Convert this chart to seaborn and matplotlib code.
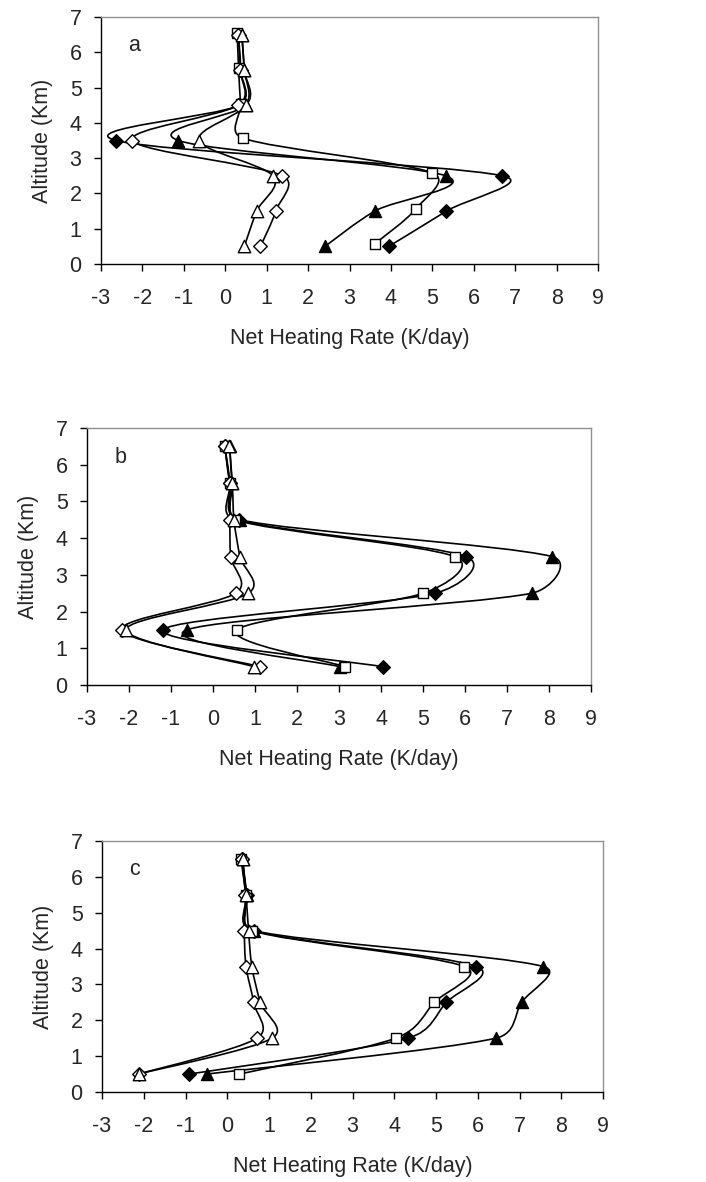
import numpy as np
import matplotlib
matplotlib.use("Agg")
import matplotlib.pyplot as plt
from matplotlib.path import Path
from matplotlib.patches import PathPatch
import seaborn as sns

# ---------------- data ----------------
alt = [0.5, 1.5, 2.5, 3.5, 4.5, 5.5, 6.5]
alt_sq_a = [0.58, 1.56, 2.58, 3.57, 4.53, 5.56, 6.56]

# panel a
a_fdiam = [3.95, 5.34, 6.69, -2.64, 0.33, 0.37, 0.32]
a_ftri  = [2.41, 3.61, 5.32, -1.13, 0.50, 0.46, 0.40]
a_osq   = [3.62, 4.60, 5.00, 0.42, 0.37, 0.32, 0.29]
a_odiam = [0.85, 1.22, 1.38, -2.24, 0.31, 0.36, 0.31]
a_otri  = [0.46, 0.76, 1.15, -0.63, 0.50, 0.46, 0.40]

# panel b
b_fdiam = [4.04, -1.19, 5.29, 6.02, 0.61, 0.40, 0.28]
b_ftri  = [3.02, -0.63, 7.59, 8.07, 0.64, 0.46, 0.40]
b_osq   = [3.14, 0.57, 5.01, 5.75, 0.52, 0.40, 0.28]
b_odiam = [1.11, -2.17, 0.54, 0.42, 0.40, 0.40, 0.28]
b_otri  = [0.98, -2.07, 0.84, 0.64, 0.50, 0.46, 0.39]

# panel c
c_fdiam = [-0.91, 4.32, 5.25, 5.97, 0.63, 0.47, 0.35]
c_ftri  = [-0.49, 6.43, 7.05, 7.57, 0.64, 0.47, 0.37]
c_osq   = [0.29, 4.03, 4.96, 5.68, 0.59, 0.45, 0.33]
c_odiam = [-2.12, 0.71, 0.63, 0.45, 0.41, 0.43, 0.35]
c_otri  = [-2.12, 1.07, 0.79, 0.59, 0.51, 0.45, 0.37]

x_ticks = [-3, -2, -1, 0, 1, 2, 3, 4, 5, 6, 7, 8, 9]
y_ticks = [0, 1, 2, 3, 4, 5, 6, 7]
panel_labels = ["a", "b", "c"]
xlabel = "Net Heating Rate (K/day)"
ylabel = "Altitude (Km)"

# ---------------- style ----------------
sns.set_style("ticks")
plt.rcParams["font.family"] = ["Liberation Sans", "DejaVu Sans"]
FS = 15.5

fig = plt.figure(figsize=(7.06, 11.82), dpi=100)

positions = [
    [101 / 706, 1 - 264 / 1182, 497 / 706, 247 / 1182],
    [87 / 706, 1 - 685 / 1182, 504 / 706, 257 / 1182],
    [102 / 706, 1 - 1092 / 1182, 501 / 706, 251 / 1182],
]

# marker styles: (marker, facecolor, size)
styles = [
    ("D", "black", 48),   # filled diamond
    ("^", "black", 75),   # filled triangle
    ("s", "white", 50),   # open square
    ("D", "white", 48),   # open diamond
    ("^", "white", 80),   # open triangle
]

panels = [
    [(a_fdiam, alt), (a_ftri, alt), (a_osq, alt_sq_a), (a_odiam, alt), (a_otri, alt)],
    [(b_fdiam, alt), (b_ftri, alt), (b_osq, alt), (b_odiam, alt), (b_otri, alt)],
    [(c_fdiam, alt), (c_ftri, alt), (c_osq, alt), (c_odiam, alt), (c_otri, alt)],
]


def smooth_path(xs, ys, sx, sy):
    """Excel-like smoothed line: Bezier, tangent/6, capped at half segment (pixel space)."""
    P = np.column_stack([np.asarray(xs, float) * sx, np.asarray(ys, float) * sy])
    n = len(P)
    verts = [P[0]]
    codes = [Path.MOVETO]
    for i in range(n - 1):
        p0 = P[i - 1] if i > 0 else P[i]
        p1 = P[i]
        p2 = P[i + 1]
        p3 = P[i + 2] if i + 2 < n else P[i + 1]
        seg = np.linalg.norm(p2 - p1)
        d1 = (p2 - p0) / 6.0
        d2 = (p3 - p1) / 6.0
        for d in (d1, d2):
            L = np.linalg.norm(d)
            if L > seg / 2 and L > 0:
                d *= (seg / 2) / L
        c1 = p1 + d1
        c2 = p2 - d2
        verts += [c1, c2, p2]
        codes += [Path.CURVE4] * 3
    V = np.array(verts)
    V[:, 0] /= sx
    V[:, 1] /= sy
    return Path(V, codes)


for k, (pos, series) in enumerate(zip(positions, panels)):
    ax = fig.add_axes(pos)
    ax.set_xlim(-3, 9)
    ax.set_ylim(0, 7)
    sx = pos[2] * 706 / 12.0
    sy = pos[3] * 1182 / 7.0
    for (xs, ys), (mk, fc, sz) in zip(series, styles):
        patch = PathPatch(smooth_path(xs, ys, sx, sy), facecolor="none",
                          edgecolor="black", lw=1.2, zorder=2)
        ax.add_patch(patch)
        sns.scatterplot(x=xs, y=ys, marker=mk, s=sz, color=fc,
                        edgecolor="black", linewidth=1.0, ax=ax,
                        zorder=3, legend=False)
    ax.set_xlim(-3, 9)
    ax.set_ylim(0, 7)
    ax.set_xticks(x_ticks)
    ax.set_yticks(y_ticks)
    ax.set_xticklabels([str(t) for t in x_ticks], fontsize=FS)
    ax.set_yticklabels([str(t) for t in y_ticks], fontsize=FS)
    ax.tick_params(axis="both", direction="out", length=5, width=1,
                   color="black")
    ax.tick_params(axis="x", pad=12)
    ax.tick_params(axis="y", pad=9)
    ax.set_xlabel(xlabel, fontsize=FS, labelpad=14)
    ax.set_ylabel(ylabel, fontsize=FS, labelpad=12)
    for side in ["left", "bottom"]:
        ax.spines[side].set_color("black")
        ax.spines[side].set_linewidth(1.0)
    for side in ["top", "right"]:
        ax.spines[side].set_visible(True)
        ax.spines[side].set_color("#909090")
        ax.spines[side].set_linewidth(1.0)
    ax.text(-2.35, 6.2, panel_labels[k], fontsize=FS, ha="left", va="center")

fig.savefig("out.png", dpi=100)
